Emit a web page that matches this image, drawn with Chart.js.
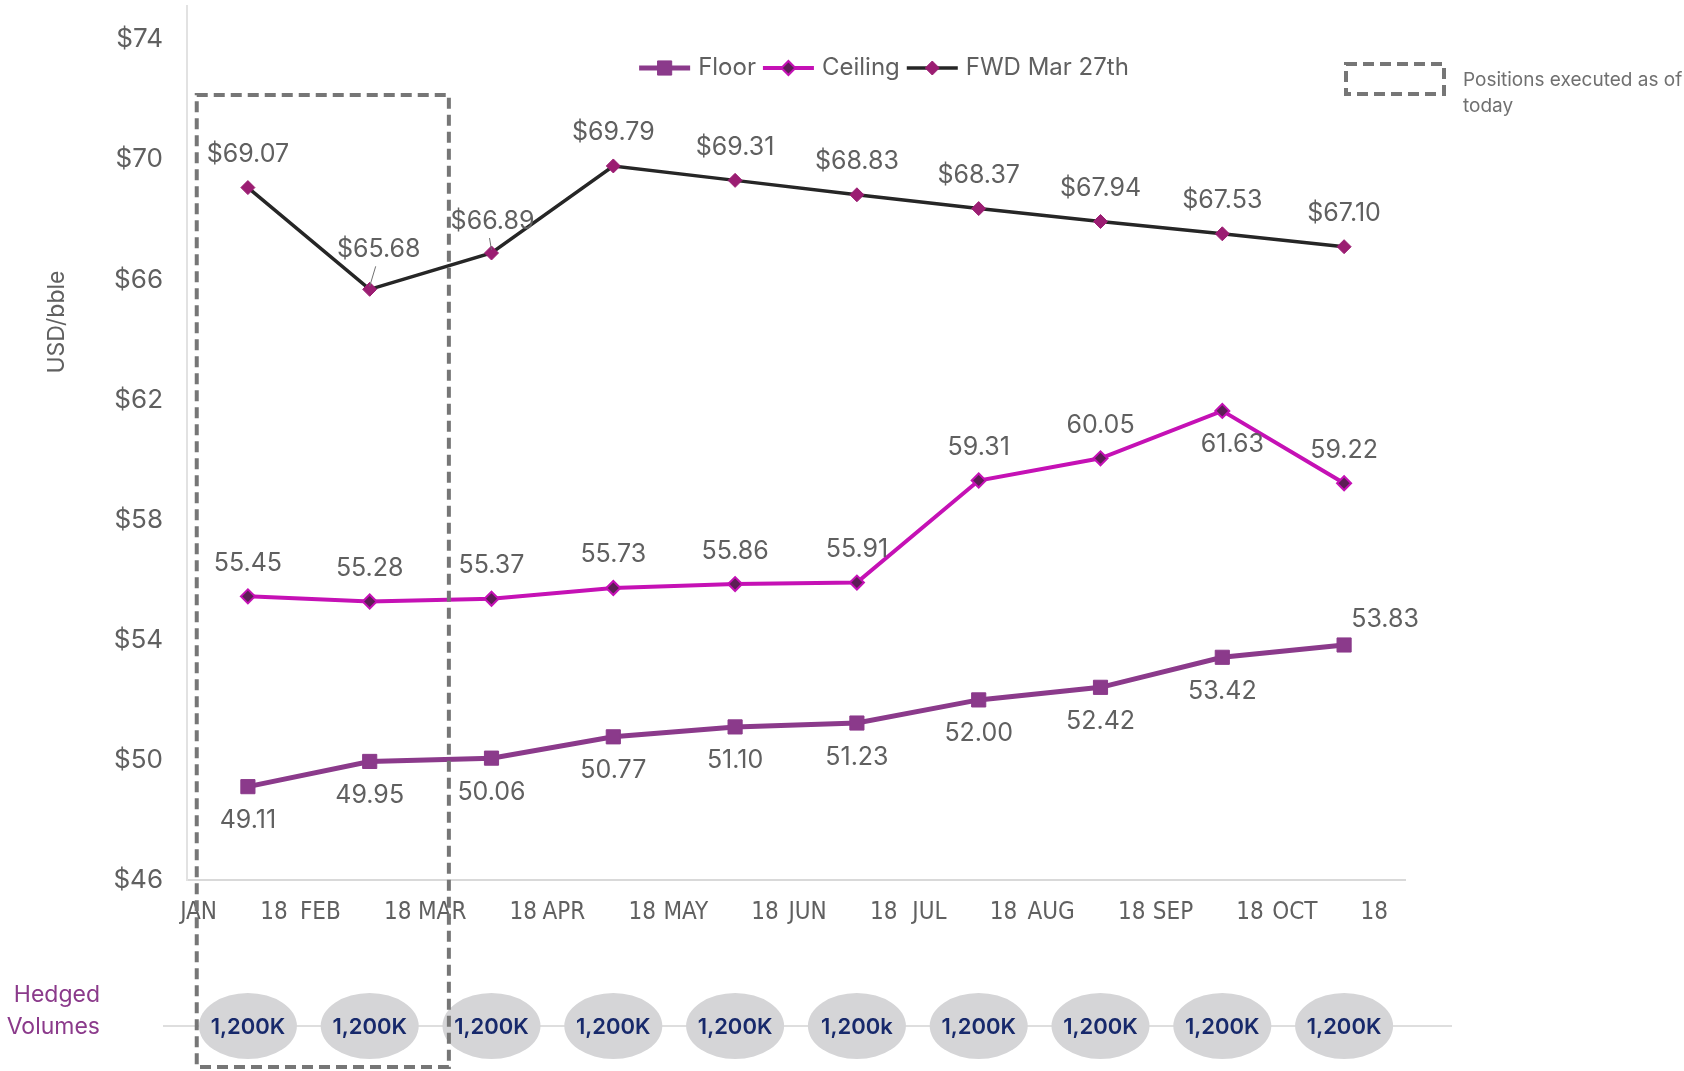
<!DOCTYPE html>
<html>
<head>
<meta charset="utf-8">
<title>Floor / Ceiling / FWD</title>
<script src="https://cdn.jsdelivr.net/npm/chart.js@4.4.1/dist/chart.umd.min.js"></script>
<style>
  body { margin: 0; background: #fff; }
  #wrap { position: relative; width: 1684px; height: 1071px; }
</style>
</head>
<body>
<div id="wrap"><canvas id="hedgeChart"></canvas></div>
<script>
const months = ["JAN", "FEB", "MAR", "APR", "MAY", "JUN", "JUL", "AUG", "SEP", "OCT"];
const yearLabel = "18";
const floorValues = [49.11, 49.95, 50.06, 50.77, 51.10, 51.23, 52.00, 52.42, 53.42, 53.83];
const ceilingValues = [55.45, 55.28, 55.37, 55.73, 55.86, 55.91, 59.31, 60.05, 61.63, 59.22];
const fwdValues = [69.07, 65.68, 66.89, 69.79, 69.31, 68.83, 68.37, 67.94, 67.53, 67.10];
const hedgedVolumes = ["1,200K", "1,200K", "1,200K", "1,200K", "1,200K", "1,200k", "1,200K", "1,200K", "1,200K", "1,200K"];
const yTicks = [46, 50, 54, 58, 62, 66, 70, 74];
const executedMonths = 2; // JAN and FEB already executed

const textGray = '#606060';
const mainFont = "Inter, 'Liberation Sans', sans-serif";
const narrowFont = "'Liberation Sans Narrow', 'DejaVu Sans Condensed', sans-serif";

// where each value label sits relative to its point
const floorLabelPos = ['below', 'below', 'below', 'below', 'below', 'below', 'below', 'below', 'below', 'aboveRight'];
const ceilingLabelPos = ['above', 'above', 'above', 'above', 'above', 'above', 'above', 'above', 'belowRight', 'above'];
const fwdLabelPos = ['above', 'leader', 'leaderShort', 'above', 'above', 'above', 'above', 'above', 'above', 'above'];

const drawOverlay = {
    id: 'drawOverlay',
    beforeDatasetsDraw(chart) {
        const { ctx, scales: { x } } = chart;
        const rowY = 1026;
        ctx.save();
        // hedged volumes row
        ctx.strokeStyle = '#dedede';
        ctx.lineWidth = 2;
        ctx.beginPath();
        ctx.moveTo(163, rowY);
        ctx.lineTo(1452, rowY);
        ctx.stroke();
        ctx.font = '600 22px ' + mainFont;
        ctx.textAlign = 'center';
        ctx.textBaseline = 'middle';
        hedgedVolumes.forEach((v, i) => {
            const cx = x.getPixelForValue(i);
            ctx.fillStyle = '#d5d5d7';
            ctx.beginPath();
            ctx.ellipse(cx, rowY, 49, 33, 0, 0, Math.PI * 2);
            ctx.fill();
            ctx.fillStyle = '#17296b';
            ctx.fillText(v, cx, rowY + 1);
        });
        // "Hedged Volumes" caption
        ctx.font = '23px ' + mainFont;
        ctx.fillStyle = '#8b3a8b';
        ctx.textAlign = 'right';
        ctx.fillText('Hedged', 100, 995);
        ctx.fillText('Volumes', 100, 1027);
        ctx.restore();
    },
    afterDatasetsDraw(chart) {
        const { ctx, chartArea, scales: { x } } = chart;
        const step = x.getPixelForValue(1) - x.getPixelForValue(0);
        ctx.save();
        // y axis line runs a bit above the top tick
        ctx.strokeStyle = '#e2e2e2';
        ctx.lineWidth = 2;
        ctx.beginPath();
        ctx.moveTo(chartArea.left, 5);
        ctx.lineTo(chartArea.left, chartArea.top);
        ctx.stroke();

        // executed positions box
        const bx0 = x.getPixelForValue(0) - step * 0.42;
        const bx1 = x.getPixelForValue(executedMonths) - step * 0.35;
        ctx.strokeStyle = '#767676';
        ctx.lineWidth = 4;
        ctx.setLineDash([11, 6]);
        ctx.strokeRect(bx0, 95, bx1 - bx0, 1067 - 95);
        ctx.setLineDash([]);

        // value labels
        ctx.font = '25px ' + mainFont;
        ctx.fillStyle = textGray;
        ctx.textAlign = 'center';
        ctx.textBaseline = 'middle';
        chart.data.datasets.forEach((ds, di) => {
            const meta = chart.getDatasetMeta(di);
            meta.data.forEach((pt, i) => {
                const txt = ds.labelPrefix + ds.data[i].toFixed(2);
                const pos = ds.labelPos[i];
                let tx = pt.x, ty = pt.y;
                if (pos === 'above') ty -= 33;
                else if (pos === 'below') ty += 34;
                else if (pos === 'belowRight') { tx += 10; ty += 34; }
                else if (pos === 'aboveRight') { tx += 41; ty -= 26; }
                else if (pos === 'leader') { tx += 9; ty -= 40; }
                else if (pos === 'leaderShort') { tx += 1; ty -= 32; }
                if (pos.startsWith('leader')) {
                    ctx.strokeStyle = '#707070';
                    ctx.lineWidth = 1;
                    ctx.beginPath();
                    ctx.moveTo(tx - 3, ty + 17);
                    ctx.lineTo(pt.x, pt.y - 3);
                    ctx.stroke();
                }
                ctx.fillText(txt, tx, ty);
            });
        });
        ctx.restore();
    },
    afterDraw(chart) {
        const { ctx } = chart;
        ctx.save();
        // legend with line + marker
        const legendY = 68, legendCenterX = 884, lineLen = 51, gapText = 8, gapItem = 7;
        ctx.font = '24px ' + mainFont;
        ctx.textBaseline = 'middle';
        ctx.textAlign = 'left';
        const items = chart.data.datasets;
        let total = 0;
        items.forEach((ds, i) => {
            total += lineLen + gapText + ctx.measureText(ds.label).width + (i ? gapItem : 0);
        });
        let lx = legendCenterX - total / 2;
        items.forEach((ds) => {
            ctx.strokeStyle = ds.borderColor;
            ctx.lineWidth = ds.borderWidth;
            ctx.beginPath();
            ctx.moveTo(lx, legendY);
            ctx.lineTo(lx + lineLen, legendY);
            ctx.stroke();
            ctx.fillStyle = ds.pointBackgroundColor;
            ctx.strokeStyle = ds.pointBorderColor;
            ctx.lineWidth = ds.pointBorderWidth;
            Chart.helpers.drawPoint(ctx, {
                pointStyle: ds.pointStyle, rotation: 0,
                radius: ds.pointRadius, borderWidth: ds.pointBorderWidth
            }, lx + lineLen / 2, legendY);
            ctx.fillStyle = textGray;
            ctx.fillText(ds.label, lx + lineLen + gapText, legendY);
            lx += lineLen + gapText + ctx.measureText(ds.label).width + gapItem;
        });

        // executed positions key
        ctx.strokeStyle = '#767676';
        ctx.lineWidth = 4;
        ctx.setLineDash([11, 6]);
        ctx.strokeRect(1346, 64, 98, 30);
        ctx.setLineDash([]);
        ctx.font = '19px ' + mainFont;
        ctx.fillStyle = '#707070';
        ctx.fillText('Positions executed as of', 1463, 80);
        ctx.fillText('today', 1463, 106);

        // y axis title
        ctx.translate(57, 322);
        ctx.rotate(-Math.PI / 2);
        ctx.textAlign = 'center';
        ctx.font = '23px ' + mainFont;
        ctx.fillStyle = textGray;
        ctx.fillText('USD/bble', 0, 0);
        ctx.restore();
    }
};

const ctx = document.getElementById('hedgeChart').getContext('2d');
const hedgeChart = new Chart(ctx, {
    type: 'line',
    data: {
        labels: months.map(m => m + ' ' + yearLabel),
        datasets: [
            {
                label: 'Floor',
                data: floorValues,
                borderColor: '#8b3a8b',
                backgroundColor: '#8b3a8b',
                borderWidth: 5,
                pointStyle: 'rect',
                pointRadius: 10,
                pointBackgroundColor: '#8b3a8b',
                pointBorderColor: '#8b3a8b',
                pointBorderWidth: 1,
                labelPrefix: '',
                labelPos: floorLabelPos
            },
            {
                label: 'Ceiling',
                data: ceilingValues,
                borderColor: '#c511b5',
                backgroundColor: '#c511b5',
                borderWidth: 4,
                pointStyle: 'rectRot',
                pointRadius: 7,
                pointBackgroundColor: '#5c1e55',
                pointBorderColor: '#c511b5',
                pointBorderWidth: 2,
                labelPrefix: '',
                labelPos: ceilingLabelPos
            },
            {
                label: 'FWD Mar 27th',
                data: fwdValues,
                borderColor: '#262626',
                backgroundColor: '#262626',
                borderWidth: 3.5,
                pointStyle: 'rectRot',
                pointRadius: 7,
                pointBackgroundColor: '#9b1d72',
                pointBorderColor: '#9b1d72',
                pointBorderWidth: 1,
                labelPrefix: '$',
                labelPos: fwdLabelPos
            }
        ]
    },
    options: {
        responsive: true,
        maintainAspectRatio: false,
        animation: false,
        layout: { padding: { top: 33, right: 279, left: 0, bottom: 0 } },
        plugins: {
            legend: { display: false },
            tooltip: { enabled: false }
        },
        scales: {
            x: {
                offset: true,
                grid: { display: false, drawTicks: false, offset: true },
                border: { display: true, color: '#d9d9d9', width: 2 },
                ticks: {
                    autoSkip: false,
                    maxRotation: 0,
                    padding: 18,
                    labelOffset: -14,
                    color: textGray,
                    font: { family: narrowFont, size: 24 },
                    callback: function (value) {
                        return this.getLabelForValue(value).replace(' ', '\u2002\u2002\u2002\u2002');
                    }
                },
                afterFit: s => { s.height = 191; }
            },
            y: {
                min: 46,
                max: 74,
                grid: { display: false, drawTicks: false },
                border: { display: true, color: '#e2e2e2', width: 2 },
                ticks: {
                    padding: 24,
                    color: textGray,
                    font: { family: mainFont, size: 26 },
                    callback: v => '$' + v
                },
                afterBuildTicks: s => { s.ticks = yTicks.map(v => ({ value: v })); },
                afterFit: s => { s.width = 187; }
            }
        }
    },
    plugins: [drawOverlay]
});
</script>
</body>
</html>
